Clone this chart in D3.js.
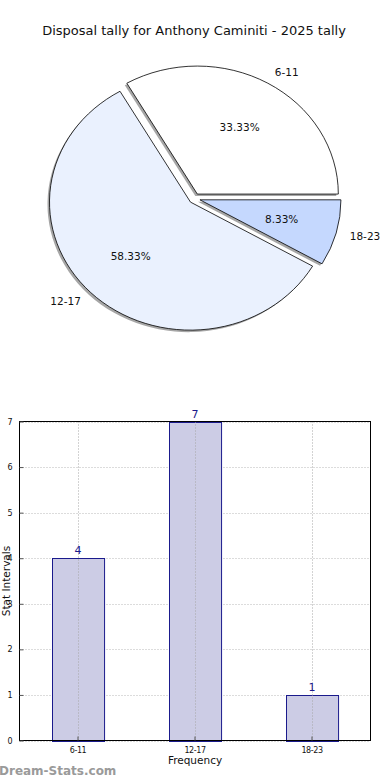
<!DOCTYPE html>
<html>
<head>
<meta charset="utf-8">
<script src="https://cdn.jsdelivr.net/npm/d3@7"></script>
<style>
  body { margin: 0; background: #fff; }
  svg { display: block; font-family: "DejaVu Sans", sans-serif; }
</style>
</head>
<body>
<div id="chart"></div>
<script>
const title = "Disposal tally for Anthony Caminiti - 2025 tally";
const categories = ["6-11", "12-17", "18-23"];
const counts = [4, 7, 1];
const sliceColors = ["#ffffff", "#eaf1fe", "#c5d8fe"];
const yTicks = [0, 1, 2, 3, 4, 5, 6, 7];

const width = 390, height = 780;

const svg = d3.select("#chart").append("svg")
    .attr("width", width)
    .attr("height", height);

svg.append("text")
    .attr("x", 194)
    .attr("y", 35)
    .attr("text-anchor", "middle")
    .attr("font-size", 13)
    .attr("fill", "#111")
    .text(title);

// ---- pie (matplotlib style: starts east, counter-clockwise, elliptical axes)
const cx = 194.5, cy = 198.5, rx = 141, ry = 128, explode = 0.04;
const total = d3.sum(counts);

const pie = d3.pie()
    .sort(null)
    .startAngle(Math.PI / 2)
    .endAngle(Math.PI / 2 - 2 * Math.PI);
const arcs = pie(counts);
const arc = d3.arc().innerRadius(0).outerRadius(1);

const offset = (d, dist) => {
    const m = (d.startAngle + d.endAngle) / 2;
    return [dist * rx * Math.sin(m), -dist * ry * Math.cos(m)];
};

const pieG = svg.append("g");

// shadows first
pieG.selectAll("path.shadow")
    .data(arcs)
    .enter()
    .append("path")
    .attr("class", "shadow")
    .attr("d", arc)
    .attr("transform", d => {
        const [ox, oy] = offset(d, explode);
        return `translate(${cx + ox - 2},${cy + oy + 2}) scale(${rx},${ry})`;
    })
    .attr("fill", "#4d4d4d")
    .attr("fill-opacity", 0.5);

pieG.selectAll("path.slice")
    .data(arcs)
    .enter()
    .append("path")
    .attr("class", "slice")
    .attr("d", arc)
    .attr("transform", d => {
        const [ox, oy] = offset(d, explode);
        return `translate(${cx + ox},${cy + oy}) scale(${rx},${ry})`;
    })
    .attr("fill", (d, i) => sliceColors[i])
    .attr("stroke", "#000")
    .attr("stroke-width", 0.8)
    .attr("vector-effect", "non-scaling-stroke");

pieG.selectAll("text.label")
    .data(arcs)
    .enter()
    .append("text")
    .attr("class", "label")
    .each(function (d, i) {
        const [ex, ey] = offset(d, explode);
        const [lx, ly] = offset(d, 1.1);
        d3.select(this)
            .attr("x", cx + ex + lx)
            .attr("y", cy + ey + ly)
            .attr("dy", "0.35em")
            .attr("text-anchor", lx > 0 ? "start" : "end")
            .attr("font-size", 10.5)
            .attr("fill", "#111")
            .text(categories[i]);
    });

pieG.selectAll("text.pct")
    .data(arcs)
    .enter()
    .append("text")
    .attr("class", "pct")
    .each(function (d) {
        const [ex, ey] = offset(d, explode);
        const [px, py] = offset(d, 0.6);
        d3.select(this)
            .attr("x", cx + ex + px)
            .attr("y", cy + ey + py)
            .attr("dy", "0.35em")
            .attr("text-anchor", "middle")
            .attr("font-size", 10.5)
            .attr("fill", "#111")
            .text((d.value / total * 100).toFixed(2) + "%");
    });

// ---- bar chart
const plot = { left: 19.5, right: 370.5, top: 421.5, bottom: 740.5 };

const x = d3.scaleBand()
    .domain(categories)
    .range([plot.left, plot.right])
    .paddingInner(0.555)
    .paddingOuter(0.2775);

const y = d3.scaleLinear()
    .domain([0, 7])
    .range([plot.bottom, plot.top]);

const barG = svg.append("g");

// horizontal grid (behind bars)
barG.append("g")
    .selectAll("line")
    .data(yTicks)
    .enter()
    .append("line")
    .attr("x1", plot.left)
    .attr("x2", plot.right)
    .attr("y1", d => Math.round(y(d)) + 0.5)
    .attr("y2", d => Math.round(y(d)) + 0.5)
    .attr("stroke", "#b8b8b8")
    .attr("stroke-dasharray", "1,2");

// bars
barG.selectAll("rect.bar")
    .data(counts)
    .enter()
    .append("rect")
    .attr("class", "bar")
    .attr("x", (d, i) => Math.round(x(categories[i])) + 0.5)
    .attr("y", d => Math.round(y(d)) + 0.5)
    .attr("width", x.bandwidth())
    .attr("height", d => Math.round(y(0)) - Math.round(y(d)))
    .attr("fill", "#cccce5")
    .attr("stroke", "#1a1a8c")
    .attr("stroke-width", 1);

// vertical grid, visible through the bars
barG.append("g")
    .selectAll("line")
    .data(categories)
    .enter()
    .append("line")
    .attr("x1", d => Math.round(x(d) + x.bandwidth() / 2) + 0.5)
    .attr("x2", d => Math.round(x(d) + x.bandwidth() / 2) + 0.5)
    .attr("y1", plot.top)
    .attr("y2", plot.bottom)
    .attr("stroke", "#a6a6a6")
    .attr("stroke-dasharray", "1,2");

// value labels
barG.selectAll("text.value")
    .data(counts)
    .enter()
    .append("text")
    .attr("class", "value")
    .attr("x", (d, i) => x(categories[i]) + x.bandwidth() / 2)
    .attr("y", d => y(d) - 4)
    .attr("text-anchor", "middle")
    .attr("font-size", 11)
    .attr("fill", "#1a1a8c")
    .text(d => d);

// frame
barG.append("rect")
    .attr("x", plot.left)
    .attr("y", plot.top)
    .attr("width", plot.right - plot.left)
    .attr("height", plot.bottom - plot.top)
    .attr("fill", "none")
    .attr("stroke", "#000")
    .attr("stroke-width", 1);

// axes with inward ticks
const yAxis = d3.axisLeft(y).tickValues(yTicks).tickSize(-4).tickPadding(7).tickFormat(d3.format("d"));
const xAxis = d3.axisBottom(x).tickSize(-4).tickPadding(7);

barG.append("g")
    .attr("transform", `translate(${plot.left},0)`)
    .call(yAxis)
    .call(g => g.select(".domain").remove())
    .call(g => g.selectAll("text").attr("font-size", 8).attr("fill", "#111").attr("font-family", "DejaVu Sans"))
    .call(g => g.selectAll("line").attr("stroke", "#555"));

barG.append("g")
    .attr("transform", `translate(0,${plot.bottom})`)
    .call(xAxis)
    .call(g => g.select(".domain").remove())
    .call(g => g.selectAll("text").attr("font-size", 8).attr("fill", "#111").attr("font-family", "DejaVu Sans").attr("letter-spacing", -0.4))
    .call(g => g.selectAll("line").attr("stroke", "#555"));

svg.append("text")
    .attr("x", (plot.left + plot.right) / 2)
    .attr("y", 764)
    .attr("text-anchor", "middle")
    .attr("font-size", 10.5)
    .attr("fill", "#111")
    .text("Frequency");

svg.append("text")
    .attr("transform", `translate(10,${(plot.top + plot.bottom) / 2}) rotate(-90)`)
    .attr("text-anchor", "middle")
    .attr("font-size", 10.5)
    .attr("fill", "#111")
    .text("Stat Intervals");

svg.append("text")
    .attr("x", -1)
    .attr("y", 775)
    .attr("font-size", 12)
    .attr("font-weight", "bold")
    .attr("fill", "#9a9a9a")
    .text("Dream-Stats.com");
</script>
</body>
</html>
